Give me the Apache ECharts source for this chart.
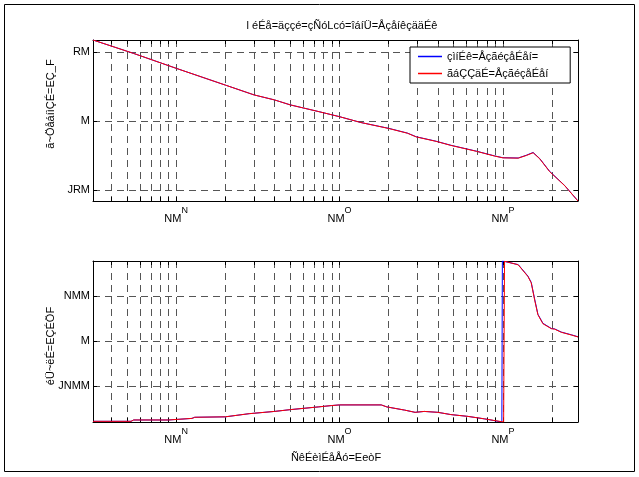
<!DOCTYPE html>
<html><head><meta charset="utf-8">
<script src="https://cdn.jsdelivr.net/npm/echarts@6/dist/echarts.min.js"></script>
<style>html,body{margin:0;padding:0;background:#fff}#c{width:639px;height:477px}</style>
</head><body><div id="c"></div>
<script>
// ---- texts (as rendered in the reference) ----
const titleText = 'l éÉå=äççé=çÑóLcó=îáíÜ=ÅçåíêçääÉê';
const legendNames = ['çìíÉê=ÅçãéçåÉåí=', 'ãáÇÇäÉ=ÅçãéçåÉåí'];
const magYLabel = 'ã~ÖåáíìÇÉ=EÇ_F';
const phaseYLabel = 'éÜ~ëÉ=EÇÉÖF';
const xLabel = 'ÑêÉèìÉåÅó=EeòF';
const xTickDecades = [1, 2, 3];
const xTickBase = ['NM', 'NM', 'NM'];
const xTickExp = ['N', 'O', 'P'];
const magTicks = [-50, 0, 50];
const magTickLabels = ['JRM', 'M', 'RM'];
const phaseTicks = [-100, 0, 100];
const phaseTickLabels = ['JNMM', 'M', 'NMM'];

// ---- ranges ----
const freqRange = [3.1, 2880];
const magRange = [-57.6, 58.5];
const phaseRange = [-179.5, 178.5];

// ---- data (frequency in Hz) ----
const magFreq = [3.1, 5.5, 10, 20, 30, 40, 50, 75, 100, 135, 200, 260, 295, 390, 480, 690, 890, 1000, 1240, 1390, 1530, 1680, 1930, 2390, 2880];
const magRed  = [58.5, 48.8, 38.1, 26.0, 18.9, 15.3, 11.7, 6.8, 3.2, -1.0, -5.3, -8.7, -11.4, -14.6, -17.5, -21.8, -25.2, -26.5, -26.7, -24.8, -22.8, -27.2, -36.4, -46.6, -57.6];
const magBlue = [58.5, 48.8, 38.1, 26.0, 18.9, 15.3, 11.7, 6.8, 3.2, -1.0, -5.2, -8.6, -11.3, -14.5, -17.4, -21.7, -25.1, -26.4, -26.6, -24.6, -22.6, -27.0, -36.2, -46.5, -57.6];

const phaseFreqRed = [3.1, 5.3, 5.5, 9.0, 9.2, 12.5, 13, 20, 28, 40, 50, 74, 89, 100, 180, 195, 250, 290, 330, 400, 480, 610, 770, 1010, 1023, 1240, 1422, 1490, 1563, 1637, 1757, 1977, 2072, 2275, 2618, 2880];
const phaseRed = [-178, -178, -175, -175, -172, -171.5, -169, -168, -161, -156, -152, -146, -143, -141.5, -141.5, -146, -153, -158, -156, -158, -163, -167, -172.5, -179.5, 178, 170, 144, 130, 92, 59, 39, 28, 27, 20, 14, 9.6];
const phaseFreqBlue = [3.1, 5.3, 5.5, 9.0, 9.2, 12.5, 13, 20, 28, 40, 50, 74, 89, 100, 180, 195, 250, 290, 330, 400, 480, 610, 770, 985, 992, 1240, 1422, 1490, 1563, 1637, 1757, 1977, 2072, 2275, 2618, 2880];
const phaseBlue = [-178, -178, -175, -175, -172, -171.5, -169, -168, -161, -156, -152, -146, -143, -141.5, -141.5, -146, -153, -158, -156, -158, -163, -167, -172.5, -179.5, 178.5, 170.5, 145, 131, 94, 60, 40, 28.5, 27.5, 20.5, 14.5, 10];

// ---- helpers ----
const lg = Math.log10;
function pairs(f, v) { return f.map((x, i) => [lg(x), v[i]]); }
const xMin = lg(freqRange[0]), xMax = lg(freqRange[1]);
const xTickVals = [];
for (let n = 0; n <= 3; n++) for (let k = 1; k <= 9; k++) {
  const f = k * Math.pow(10, n);
  if (f > freqRange[0] && f < freqRange[1]) xTickVals.push(lg(f));
}
const FONT = 'Liberation Sans, Arial, Helvetica, sans-serif';
const gridLine = { show: true, lineStyle: { color: '#555', width: 1, type: [7, 5] } };
const axisLineS = { show: true, onZero: false, lineStyle: { color: '#000', width: 1 } };
const tickS = (vals) => ({ show: true, inside: true, length: 4, customValues: vals, lineStyle: { color: '#000' } });

function xAxes(gi) {
  return [
    { type: 'value', gridIndex: gi, position: 'bottom', min: xMin, max: xMax,
      axisLine: axisLineS, axisTick: tickS(xTickVals), splitLine: gridLine,
      axisLabel: { show: true, customValues: xTickDecades, margin: 5,
        formatter: v => { const i = xTickDecades.indexOf(Math.round(v)); return '{b|' + xTickBase[i] + '}{s|' + xTickExp[i] + '}'; },
        rich: { b: { fontSize: 11, fontFamily: FONT, color: '#000', lineHeight: 18, verticalAlign: 'bottom' },
                s: { fontSize: 9, fontFamily: FONT, color: '#000', verticalAlign: 'top', lineHeight: 10 } } } },
    { type: 'value', gridIndex: gi, position: 'top', min: xMin, max: xMax,
      axisLine: axisLineS, axisTick: tickS(xTickVals), splitLine: { show: false }, axisLabel: { show: false } }
  ];
}
function yAxes(gi, rng, ticks, labels) {
  return [
    { type: 'value', gridIndex: gi, position: 'left', min: rng[0], max: rng[1],
      axisLine: axisLineS, axisTick: tickS(ticks), splitLine: gridLine,
      axisLabel: { show: true, customValues: ticks, margin: 3, fontSize: 11, fontFamily: FONT, color: '#000',
        formatter: v => labels[ticks.indexOf(Math.round(v))] } },
    { type: 'value', gridIndex: gi, position: 'right', min: rng[0], max: rng[1],
      axisLine: axisLineS, axisTick: tickS(ticks), splitLine: { show: false }, axisLabel: { show: false } }
  ];
}
function line(name, color, data, xi, yi, z) {
  return { type: 'line', name, data, xAxisIndex: xi, yAxisIndex: yi, showSymbol: false, symbol: 'none',
    lineStyle: { color, width: 1 }, itemStyle: { color }, z, animation: false, clip: true };
}

const chart = echarts.init(document.getElementById('c'), null, { renderer: 'canvas' });
chart.setOption({
  backgroundColor: '#fff',
  animation: false,
  title: { text: titleText, left: 337, top: 15, textAlign: 'center',
    textStyle: { fontSize: 11, fontWeight: 'normal', fontFamily: FONT, color: '#000' } },
  grid: [
    { left: 93, top: 40, width: 485, height: 161 },
    { left: 93, top: 261, width: 485, height: 161 }
  ],
  xAxis: [...xAxes(0), ...xAxes(1)],
  yAxis: [...yAxes(0, magRange, magTicks, magTickLabels), ...yAxes(1, phaseRange, phaseTicks, phaseTickLabels)],
  legend: { show: true, orient: 'vertical', left: 410, top: 47, data: legendNames,
    icon: 'rect', itemWidth: 24, itemHeight: 1.5, itemGap: 6,
    padding: [4, 22, 4, 8], borderColor: '#000', borderWidth: 1, backgroundColor: '#fff',
    textStyle: { fontSize: 11, fontFamily: FONT, color: '#000' } },
  series: [
    line(legendNames[0], '#0000ff', pairs(magFreq, magBlue), 0, 0, 3),
    line(legendNames[1], '#ff0000', pairs(magFreq, magRed), 0, 0, 4),
    line(legendNames[0], '#0000ff', pairs(phaseFreqBlue, phaseBlue), 2, 2, 3),
    line(legendNames[1], '#ff0000', pairs(phaseFreqRed, phaseRed), 2, 2, 4)
  ],
  graphic: [
    { type: 'rect', shape: { x: 4.5, y: 4.5, width: 630, height: 467 }, style: { fill: null, stroke: '#000', lineWidth: 1 }, silent: true, z: -10 },
    { type: 'text', x: 51, y: 104, rotation: Math.PI / 2, style: { text: magYLabel, fontSize: 11, fontFamily: FONT, fill: '#000', align: 'center', verticalAlign: 'middle' } },
    { type: 'text', x: 51, y: 346, rotation: Math.PI / 2, style: { text: phaseYLabel, fontSize: 11, fontFamily: FONT, fill: '#000', align: 'center', verticalAlign: 'middle' } },
    { type: 'text', x: 336, y: 458, style: { text: xLabel, fontSize: 11, fontFamily: FONT, fill: '#000', align: 'center', verticalAlign: 'middle' } }
  ]
});
</script>
</body></html>
